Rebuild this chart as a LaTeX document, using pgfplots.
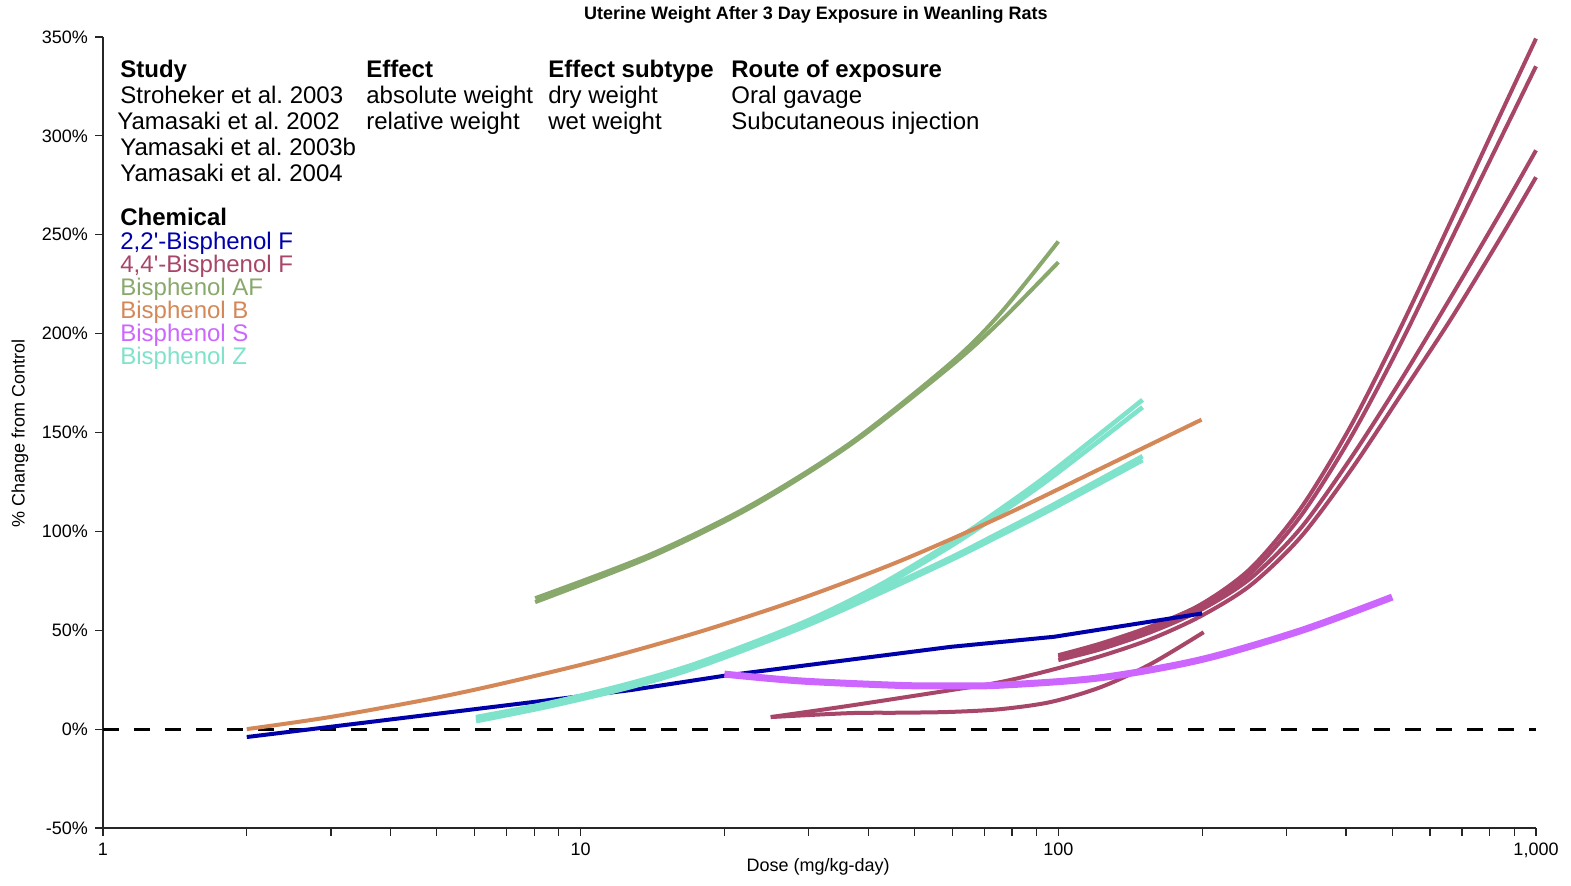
\documentclass[border=0pt]{standalone}
\usepackage{fontspec}
\setmainfont{Liberation Sans}
\usepackage{pgfplots}
\pgfplotsset{compat=1.18}
\definecolor{cBlue}{RGB}{0,0,170}
\definecolor{cMag}{RGB}{168,70,106}
\definecolor{cGreen}{RGB}{137,168,108}
\definecolor{cOrange}{RGB}{212,136,88}
\definecolor{cPurple}{RGB}{204,102,255}
\definecolor{cTeal}{RGB}{127,226,202}
\newcommand\legfont{\fontsize{12}{13}\selectfont}
\font\apfont="Liberation Sans" at 12pt
\newcommand\ap{{\apfont '}}
\frenchspacing
\begin{document}
\begin{tikzpicture}
\path[use as bounding box] (-51.5pt,-28.5pt) rectangle (734pt,414pt);
\begin{axis}[
  scale only axis, width=716.5pt, height=395.5pt,
  xmode=log, xmin=1, xmax=1000, ymin=-50, ymax=350,
  axis x line*=bottom, axis y line*=left,
  axis line style={line width=0.8pt, black!85, -},
  tick style={line width=0.6pt, black!85},
  tick align=outside, major tick length=4pt, minor tick length=4pt,
  xtick={1,10,100,1000}, xticklabels={1,10,100,{1,000}},
  minor xtick={2,3,4,5,6,7,8,9,20,30,40,50,60,70,80,90,200,300,400,500,600,700,800,900},
  ytick={-50,0,50,100,150,200,250,300,350},
  /pgf/number format/assume math mode=true,
  yticklabel={\pgfmathprintnumber{\tick}\%},
  ticklabel style={font=\fontsize{9}{10}\selectfont},
  xlabel={Dose (mg/kg-day)},
  ylabel={\% Change from Control},
  label style={font=\fontsize{9}{10}\selectfont},
  xlabel style={at={(rel axis cs:0.499,-0.0493)}, anchor=center},
  ylabel style={at={(rel axis cs:-0.058,0.499)}, anchor=center},
  every axis title shift=0pt,
  title={Uterine Weight After 3 Day Exposure in Weanling Rats},
  title style={font=\bfseries\fontsize{9}{10}\selectfont, at={(rel axis cs:0.4975,1.0278)}, anchor=center},
  clip=false,
  every axis plot/.append style={line join=round},
]
% zero line
\addplot[black, line width=1.5pt, dash pattern=on 8pt off 7.5pt] coordinates {(1,0) (1000,0)};
% 4,4'-Bisphenol F
\addplot[cMag, line width=2pt, smooth] coordinates {(25,6.1) (36.7,8.1) (46.7,8.3) (59.5,8.7) (75.7,10.1) (96.3,13.7) (122.6,21.2) (156,32.9) (201.5,49)};
\addplot[cMag, line width=2pt, smooth] coordinates {(25,6.1) (36.7,11.9) (59.5,19.7) (75.7,23.8) (96.3,29.8) (122.6,36.9) (156,45.5) (198.6,57.1) (252.7,72.8) (321.6,97.1) (409.5,130.9) (521.1,168.9) (663.2,207.3) (843.9,248.7) (1000,279.1)};
\addplot[cMag, line width=2pt, smooth] coordinates {(100,34.9) (122.6,40.4) (156,49.0) (198.6,60.2) (252.7,76.3) (321.6,101.6) (409.5,137.0) (521.1,176.4) (663.2,218.4) (843.9,261.4) (1000,292.7)};
\addplot[cMag, line width=2pt, smooth] coordinates {(100,36.4) (122.6,42.0) (156,50.6) (198.6,61.7) (252.7,78.9) (321.6,107.7) (409.5,147.6) (521.1,195.1) (663.2,247.2) (843.9,298.8) (1000,335.2)};
\addplot[cMag, line width=2pt, smooth] coordinates {(100,37.4) (122.6,43.3) (156,51.9) (198.6,63.0) (252.7,81.3) (321.6,111.6) (409.5,153.3) (521.1,203.2) (663.2,256.8) (843.9,311.2) (1000,349.2)};
% 2,2'-Bisphenol F
\addplot[cBlue, line width=2pt] coordinates {(2,-4) (12.7,19.7) (20,27) (59.5,41.6) (98,46.7) (200,58.5)};
% Bisphenol Z
\addplot[cTeal, line width=2.3pt, smooth] coordinates {(6.04,4.04) (8.64,11.63) (12.70,21.23) (17.81,31.85) (28.84,51.06) (41.41,67.74) (59.5,85.44) (75.7,98.08) (96.3,110.97) (150.1,136.0)};
\addplot[cTeal, line width=2.3pt, smooth] coordinates {(6.04,5.56) (8.64,13.1) (12.70,22.75) (17.81,33.37) (28.84,52.58) (41.41,69.01) (59.5,86.70) (75.7,99.6) (96.3,112.7) (150.1,138.0)};
\addplot[cTeal, line width=2.3pt, smooth] coordinates {(6.04,5.06) (8.64,12.64) (12.70,22.24) (17.81,32.86) (28.84,52.07) (41.41,70.27) (59.5,92.52) (75.7,109.2) (96.3,126.9) (150.1,162.8)};
\addplot[cTeal, line width=2.3pt, smooth] coordinates {(6.04,6.07) (8.64,13.35) (12.70,23.2) (17.81,33.9) (28.84,53.3) (41.41,71.7) (59.5,94.2) (75.7,111.3) (96.3,129.6) (150.1,166.5)};
% Bisphenol B
\addplot[cOrange, line width=2pt, smooth] coordinates {(2,0) (2.99,6.12) (4.84,15.27) (6.78,22.8) (11.0,35.04) (17.81,49.34) (28.84,65.88) (46.7,85.09) (75.7,107.33) (122.6,131.75) (199.5,156.5)};
% Bisphenol AF
\addplot[cGreen, line width=2pt, smooth] coordinates {(8.03,64.2) (13.99,87.0) (22.66,112.0) (36.7,143.8) (59.5,183.5) (75.7,206.3) (100,236.1)};
\addplot[cGreen, line width=2pt, smooth] coordinates {(8.03,66.2) (13.99,88.3) (22.66,113.1) (36.7,144.7) (59.5,185.1) (75.7,210.4) (100,246.6)};
% Bisphenol S
\addplot[cPurple, line width=3.5pt, smooth] coordinates {(20,27.81) (28.84,24.37) (46.7,22.09) (59.5,21.84) (75.7,22.22) (122.6,25.99) (198.6,35.09) (321.6,49.75) (500,66.78)};
\end{axis}
\begin{scope}[x=0.5pt,y=-0.5pt,shift={(-51.5pt,414pt)}]
\tikzset{lg/.style={anchor=base west, inner sep=0pt, font=\legfont}}
\node[lg] at (120,78) {\bfseries Study};
\node[lg] at (120,104) {Stroheker et al. 2003};
\node[lg] at (117,130) {Yamasaki et al. 2002};
\node[lg] at (120,156) {Yamasaki et al. 2003b};
\node[lg] at (120,182) {Yamasaki et al. 2004};
\node[lg] at (120,226) {\bfseries Chemical};
\node[lg, text=cBlue] at (120,250) {2,2\ap-Bisphenol F};
\node[lg, text=cMag] at (120,273) {4,4\ap-Bisphenol F};
\node[lg, text=cGreen] at (120,296) {Bisphenol AF};
\node[lg, text=cOrange] at (120,319) {Bisphenol B};
\node[lg, text=cPurple] at (120,342) {Bisphenol S};
\node[lg, text=cTeal] at (120,365) {Bisphenol Z};
\node[lg] at (366,78) {\bfseries Effect};
\node[lg] at (366,104) {absolute weight};
\node[lg] at (366,130) {relative weight};
\node[lg] at (548,78) {\bfseries Effect subtype};
\node[lg] at (548,104) {dry weight};
\node[lg] at (548,130) {wet weight};
\node[lg] at (731,78) {\bfseries Route of exposure};
\node[lg] at (731,104) {Oral gavage};
\node[lg] at (731,130) {Subcutaneous injection};
\end{scope}
\end{tikzpicture}
\end{document}
